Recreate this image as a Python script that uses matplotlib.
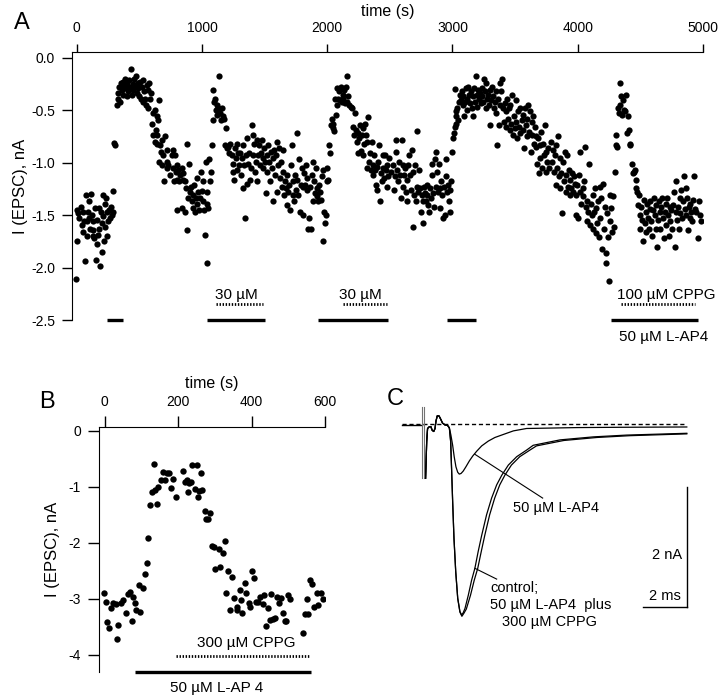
import numpy as np
import matplotlib.pyplot as plt

plt.rcParams['font.family'] = ['Liberation Sans', 'DejaVu Sans']
plt.rcParams['axes.unicode_minus'] = False

# ---------------- panel A: EPSC amplitude during the whole recording
# columns: time (s), I(EPSC) (nA)
a_0_300 = np.array([
    [-5, -2.11], [0, -1.45], [6, -1.75], [13, -1.48], [21, -1.53], [32, -1.42], [40, -1.59], [48, -1.66],
    [53, -1.47], [59, -1.56], [67, -1.94], [75, -1.31], [80, -1.70], [85, -1.56], [93, -1.47], [101, -1.37],
    [101, -1.53], [107, -1.63], [112, -1.30], [120, -1.50], [128, -1.64], [133, -1.56], [133, -1.70], [139, -1.72],
    [147, -1.43], [154, -1.93], [160, -1.78], [165, -1.55], [173, -1.69], [181, -1.63], [181, -1.43], [186, -1.99],
    [192, -1.47], [200, -1.85], [200, -1.58], [208, -1.31], [213, -1.51], [218, -1.75], [226, -1.61], [226, -1.39],
    [234, -1.34], [240, -1.47], [245, -1.70], [253, -1.56], [261, -1.45], [266, -1.53], [272, -1.42], [280, -1.50],
    [288, -1.47], [293, -1.27]])

a_300_1070 = np.array([
    [301, -0.81], [306, -0.83], [319, -0.45], [327, -0.39], [333, -0.34], [341, -0.28], [346, -0.42], [351, -0.24],
    [359, -0.31], [367, -0.23], [373, -0.36], [381, -0.27], [386, -0.20], [394, -0.29], [399, -0.37], [405, -0.24],
    [413, -0.32], [420, -0.21], [426, -0.28], [431, -0.11], [439, -0.36], [447, -0.25], [452, -0.31], [460, -0.20],
    [466, -0.28], [474, -0.17], [479, -0.34], [487, -0.24], [492, -0.29], [500, -0.37], [506, -0.23], [511, -0.39],
    [519, -0.28], [527, -0.21], [532, -0.42], [538, -0.32], [546, -0.39], [554, -0.45], [559, -0.26], [567, -0.48],
    [572, -0.31], [580, -0.24], [585, -0.39], [591, -0.34], [599, -0.63], [607, -0.53], [612, -0.74], [625, -0.50],
    [625, -0.80], [633, -0.69], [639, -0.74], [644, -0.56], [644, -0.82], [652, -0.59], [660, -0.40], [660, -0.99],
    [665, -0.83], [670, -0.90], [679, -0.78], [679, -1.02], [692, -0.93], [697, -1.18], [705, -0.75], [718, -0.88],
    [718, -1.05], [724, -0.99], [732, -1.02], [745, -1.12], [758, -0.93], [766, -1.05], [772, -0.88], [777, -1.18],
    [785, -0.93], [793, -1.09], [798, -1.02], [804, -1.17], [804, -1.45], [812, -1.07], [820, -1.18], [825, -1.12],
    [838, -1.05], [838, -1.43], [846, -1.17], [851, -1.10], [865, -1.18], [865, -1.47], [873, -1.24], [878, -1.64],
    [883, -0.82], [891, -1.34], [899, -1.01], [905, -1.28], [910, -1.23], [918, -1.37], [926, -1.31], [931, -1.43],
    [936, -1.21], [944, -1.47], [952, -1.34], [958, -1.15], [963, -1.39], [971, -1.28], [979, -1.45], [984, -1.34],
    [990, -1.09], [998, -1.27], [1006, -1.37], [1011, -1.18], [1016, -1.45], [1024, -1.69], [1032, -0.99],
    [1038, -1.39], [1043, -1.28], [1043, -1.96], [1051, -1.43], [1059, -0.97], [1064, -1.18], [1070, -1.09]])

a_1070_2000 = np.array([
    [1078, -0.83], [1085, -0.59], [1091, -0.31], [1096, -0.42], [1104, -0.39], [1112, -0.50], [1117, -0.45],
    [1123, -0.55], [1131, -0.48], [1139, -0.17], [1144, -0.53], [1149, -0.59], [1157, -0.48], [1165, -0.56],
    [1176, -0.58], [1184, -0.83], [1192, -0.67], [1203, -0.86], [1211, -0.85], [1218, -0.91], [1224, -0.82],
    [1237, -0.93], [1245, -1.09], [1251, -1.01], [1256, -1.17], [1264, -0.86], [1272, -0.96], [1277, -1.07],
    [1283, -0.82], [1291, -0.91], [1298, -1.02], [1304, -0.91], [1309, -1.12], [1317, -0.96], [1325, -1.24],
    [1330, -0.83], [1336, -1.02], [1344, -1.53], [1352, -0.93], [1357, -1.20], [1362, -0.77], [1370, -1.01],
    [1378, -0.91], [1384, -1.17], [1389, -1.05], [1397, -0.64], [1405, -0.74], [1410, -0.93], [1416, -0.82],
    [1424, -1.09], [1431, -0.99], [1437, -0.78], [1442, -1.18], [1450, -0.93], [1458, -0.83], [1463, -1.02],
    [1469, -0.91], [1477, -0.78], [1485, -0.96], [1490, -1.05], [1495, -0.86], [1503, -0.99], [1511, -1.29],
    [1517, -0.93], [1522, -1.09], [1530, -0.83], [1538, -0.99], [1543, -1.18], [1549, -0.90], [1557, -1.05],
    [1564, -1.37], [1570, -0.96], [1575, -0.88], [1583, -1.12], [1591, -0.93], [1596, -1.28], [1602, -0.80],
    [1610, -1.02], [1618, -0.86], [1623, -1.15], [1628, -0.99], [1636, -1.23], [1644, -0.88], [1650, -1.09],
    [1655, -1.31], [1663, -1.18], [1671, -1.24], [1676, -1.12], [1682, -1.40], [1690, -1.28], [1697, -1.21],
    [1703, -1.45], [1708, -1.02], [1716, -0.83], [1724, -1.31], [1729, -1.18], [1735, -1.37], [1743, -1.12],
    [1751, -1.26], [1756, -0.72], [1761, -1.17], [1769, -1.31], [1777, -0.97], [1783, -1.47], [1788, -1.21],
    [1796, -1.05], [1804, -1.50], [1809, -1.23], [1815, -1.10], [1822, -1.21], [1830, -1.02], [1836, -1.26],
    [1841, -1.15], [1849, -1.63], [1857, -1.53], [1862, -1.23], [1868, -1.63], [1876, -1.12], [1884, -1.37],
    [1889, -0.99], [1894, -1.18], [1902, -1.29], [1910, -1.05], [1916, -1.24], [1921, -1.32], [1929, -1.37],
    [1937, -1.21], [1942, -1.28], [1948, -1.36], [1956, -1.13], [1963, -1.07], [1969, -1.75], [1974, -1.47],
    [1982, -1.58], [1990, -1.50], [1995, -1.18]])

a_2000_3000 = np.array([
    [2001, -1.05], [2009, -1.17], [2017, -0.83], [2022, -0.91], [2027, -0.64], [2035, -0.58], [2043, -0.67],
    [2049, -0.63], [2054, -0.70], [2062, -0.39], [2070, -0.55], [2075, -0.45], [2081, -0.29], [2089, -0.39],
    [2096, -0.32], [2102, -0.40], [2107, -0.28], [2115, -0.42], [2123, -0.36], [2128, -0.39], [2134, -0.31],
    [2142, -0.43], [2150, -0.28], [2155, -0.17], [2160, -0.42], [2168, -0.37], [2176, -0.45], [2187, -0.47],
    [2195, -0.48], [2208, -0.66], [2213, -0.74], [2221, -0.53], [2229, -0.69], [2235, -0.80], [2243, -0.72],
    [2248, -0.91], [2256, -0.77], [2261, -0.64], [2269, -0.89], [2275, -0.74], [2283, -0.67], [2288, -0.93],
    [2293, -0.82], [2301, -0.63], [2309, -0.74], [2315, -1.05], [2320, -0.80], [2328, -0.57], [2336, -0.99],
    [2341, -0.91], [2347, -1.07], [2355, -0.80], [2362, -1.02], [2368, -1.12], [2373, -0.93], [2381, -1.07],
    [2389, -1.21], [2394, -1.04], [2400, -1.26], [2408, -0.99], [2416, -0.83], [2421, -1.37], [2426, -1.10],
    [2434, -1.18], [2442, -1.05], [2448, -0.93], [2453, -1.15], [2461, -0.93], [2469, -1.07], [2474, -1.23],
    [2480, -1.02], [2487, -1.13], [2495, -0.96],
    [2513, -1.09], [2527, -1.02], [2532, -1.26], [2540, -1.13], [2548, -0.78], [2553, -0.90], [2559, -1.07],
    [2567, -1.18], [2574, -0.99], [2580, -1.12], [2585, -1.34], [2593, -0.78], [2601, -1.02], [2606, -1.23],
    [2612, -1.12], [2620, -1.05], [2628, -1.28], [2633, -1.17], [2638, -1.37], [2646, -1.02], [2654, -0.93],
    [2660, -1.12], [2665, -1.26], [2673, -0.88], [2681, -1.61], [2686, -1.09], [2692, -1.31], [2700, -1.02],
    [2707, -1.37], [2713, -1.23], [2718, -0.70], [2726, -1.28], [2734, -1.07], [2739, -1.24], [2745, -1.47],
    [2753, -1.31], [2761, -1.37], [2766, -1.58], [2771, -1.23], [2779, -1.29], [2787, -1.37], [2793, -1.21],
    [2798, -1.31], [2806, -1.40], [2814, -1.47], [2819, -1.24], [2825, -1.34], [2833, -1.01], [2840, -1.12],
    [2846, -1.29], [2851, -1.42], [2859, -0.97], [2867, -1.23], [2872, -0.90], [2878, -1.09], [2886, -1.28],
    [2894, -1.01], [2899, -1.24], [2904, -1.43], [2912, -1.18], [2920, -1.31], [2926, -1.53], [2931, -1.23],
    [2939, -1.50], [2947, -0.97], [2952, -1.13], [2958, -1.28], [2966, -1.21], [2973, -1.37], [2979, -1.47],
    [2984, -1.26], [2992, -1.18]])

a_3000_4300 = np.array([
    [3000, -0.90], [3005, -0.77], [3011, -0.72], [3019, -0.66], [3021, -0.30], [3027, -0.63], [3027, -0.51],
    [3032, -0.56], [3037, -0.48], [3045, -0.59], [3053, -0.42], [3059, -0.36], [3064, -0.40], [3072, -0.32],
    [3080, -0.45], [3085, -0.37], [3091, -0.56], [3099, -0.42], [3106, -0.29], [3112, -0.39], [3117, -0.50],
    [3125, -0.28], [3133, -0.36], [3138, -0.43], [3144, -0.32], [3152, -0.48], [3160, -0.37], [3165, -0.56],
    [3170, -0.29], [3178, -0.42], [3186, -0.17], [3192, -0.36], [3197, -0.47], [3205, -0.31], [3213, -0.39],
    [3218, -0.34], [3224, -0.43], [3232, -0.29], [3239, -0.37], [3245, -0.42], [3250, -0.20], [3258, -0.32],
    [3266, -0.48], [3271, -0.24], [3277, -0.39], [3285, -0.36], [3293, -0.45], [3298, -0.31], [3303, -0.64],
    [3311, -0.40], [3319, -0.28], [3325, -0.37], [3330, -0.48], [3338, -0.42], [3346, -0.32], [3351, -0.53],
    [3357, -0.83], [3364, -0.39], [3372, -0.64], [3378, -0.24], [3383, -0.45], [3391, -0.32], [3399, -0.20],
    [3404, -0.48], [3410, -0.61], [3418, -0.43], [3426, -0.66], [3431, -0.51], [3436, -0.39], [3444, -0.58],
    [3452, -0.48], [3458, -0.69], [3463, -0.45], [3471, -0.63], [3479, -0.36], [3484, -0.74], [3490, -0.56],
    [3498, -0.67], [3506, -0.40], [3511, -0.61], [3516, -0.77], [3524, -0.51], [3532, -0.66], [3537, -0.48],
    [3543, -0.72], [3551, -0.59], [3559, -0.55], [3564, -0.69], [3572, -0.86], [3577, -0.48], [3585, -0.64],
    [3591, -0.75], [3596, -0.58], [3604, -0.45], [3612, -0.71], [3617, -0.51], [3623, -0.90], [3631, -0.61],
    [3638, -0.74], [3644, -0.56], [3649, -0.82], [3657, -0.66], [3665, -0.75], [3670, -0.85], [3676, -1.01],
    [3684, -0.77], [3692, -1.10], [3697, -0.83], [3702, -0.96], [3710, -0.71], [3718, -1.05], [3724, -0.82],
    [3729, -0.93], [3737, -0.64], [3745, -1.09], [3750, -0.90], [3756, -0.99], [3764, -0.86], [3772, -1.05],
    [3790, -0.80], [3798, -0.99], [3804, -0.88], [3809, -1.09], [3817, -0.93], [3825, -1.21], [3830, -0.83],
    [3836, -1.05], [3844, -0.75], [3851, -1.13], [3857, -0.96], [3862, -1.24], [3870, -1.10], [3878, -1.48],
    [3883, -0.99], [3889, -1.18], [3897, -0.90], [3905, -1.28], [3910, -1.12], [3915, -0.93], [3923, -1.23],
    [3931, -1.07], [3937, -1.31], [3942, -1.17], [3950, -1.24], [3958, -1.10], [3963, -1.28], [3969, -1.13],
    [3977, -1.20], [3984, -1.50], [3990, -1.31], [3995, -1.21], [4003, -1.53], [4011, -1.12], [4016, -1.28],
    [4022, -0.90], [4030, -1.39], [4038, -1.24], [4043, -1.32], [4048, -1.18], [4056, -0.85], [4064, -1.42],
    [4070, -1.56], [4075, -1.37], [4083, -1.47], [4091, -1.01], [4096, -1.59], [4102, -1.39], [4110, -1.50],
    [4118, -1.31], [4123, -1.63], [4128, -1.47], [4136, -1.24], [4144, -1.67], [4149, -1.43], [4155, -1.58],
    [4163, -1.37], [4171, -1.71], [4176, -1.23], [4181, -1.53], [4189, -1.34], [4197, -1.82], [4203, -1.20],
    [4208, -1.63], [4216, -1.42], [4224, -1.86], [4229, -1.96], [4235, -1.48], [4243, -1.71], [4250, -2.13],
    [4256, -1.31], [4261, -1.56], [4269, -1.43], [4277, -1.66], [4282, -1.32], [4288, -1.61], [4296, -1.09]])

a_4300_5000 = np.array([
    [4304, -0.83], [4309, -0.74], [4317, -0.85], [4322, -0.48], [4330, -0.53], [4336, -0.45], [4341, -0.24],
    [4349, -0.37], [4357, -0.55], [4362, -0.40], [4368, -0.50], [4376, -0.51], [4383, -0.36], [4394, -0.72],
    [4402, -0.56], [4410, -0.69], [4415, -0.82], [4421, -0.83], [4437, -1.01], [4442, -1.10], [4447, -1.09],
    [4455, -1.07], [4463, -1.17], [4469, -1.24], [4474, -1.28], [4482, -1.40], [4490, -1.31], [4495, -1.50],
    [4501, -1.63], [4509, -1.42], [4516, -1.55], [4522, -1.75], [4527, -1.36], [4535, -1.58], [4543, -1.47],
    [4548, -1.66], [4554, -1.39], [4562, -1.53], [4570, -1.63], [4575, -1.44], [4580, -1.37], [4588, -1.56],
    [4596, -1.70], [4602, -1.45], [4607, -1.34], [4615, -1.50], [4623, -1.63], [4628, -1.40], [4634, -1.80],
    [4642, -1.55], [4649, -1.37], [4655, -1.47], [4660, -1.63], [4668, -1.42], [4676, -1.34], [4681, -1.53],
    [4687, -1.72], [4695, -1.47], [4703, -1.39], [4708, -1.59], [4713, -1.34], [4721, -1.50], [4729, -1.70],
    [4735, -1.42], [4740, -1.56], [4748, -1.45], [4756, -1.63], [4761, -1.40], [4767, -1.28], [4775, -1.80],
    [4782, -1.47], [4788, -1.18], [4793, -1.55], [4801, -1.42], [4809, -1.63], [4814, -1.34], [4820, -1.48],
    [4828, -1.26], [4836, -1.53], [4841, -1.37], [4846, -1.13], [4854, -1.44], [4862, -1.24], [4868, -1.50],
    [4873, -1.34], [4881, -1.64], [4889, -1.42], [4894, -1.53], [4900, -1.39], [4908, -1.47], [4915, -1.56],
    [4921, -1.36], [4926, -1.13], [4934, -1.44], [4947, -1.47], [4961, -1.72], [4969, -1.37], [4979, -1.50],
    [4987, -1.56]])

a_lap4 = [(239, 372), (1037, 1503), (1928, 2487), (2953, 3187), (4262, 4961)]   # solid bars
a_cppg = [(1112, 1489), (2128, 2474), (4344, 4935)]                             # dotted bars
a_xticks = [0, 1000, 2000, 3000, 4000, 5000]
a_yticks = [0.0, -0.5, -1.0, -1.5, -2.0, -2.5]

# ---------------- panel B
b_pts = np.array([
    [-2, -2.89], [3, -3.05], [7, -3.42], [11, -3.52], [18, -3.17], [23, -3.08], [29, -3.10], [32, -3.71],
    [36, -3.46], [44, -3.07], [50, -3.03], [57, -3.26], [64, -2.91], [68, -2.87], [73, -3.40], [77, -2.96],
    [82, -3.08], [86, -3.20], [93, -2.75], [97, -3.24], [103, -2.81], [109, -2.56], [114, -2.36], [118, -1.91],
    [123, -1.33], [129, -1.09], [134, -0.60], [136, -1.06], [143, -1.30], [145, -1.00], [153, -0.88], [159, -0.73],
    [163, -0.88], [168, -0.75], [174, -0.76], [180, -1.03], [186, -0.87], [193, -1.19], [213, -0.72], [218, -0.91],
    [225, -0.88], [227, -1.09], [230, -0.93], [236, -0.91], [238, -0.61], [245, -1.05], [250, -0.61], [254, -1.18],
    [256, -1.07], [262, -0.76], [265, -1.06], [272, -1.43], [277, -1.58], [281, -1.58], [286, -1.47], [291, -2.06],
    [298, -2.08], [301, -2.47], [311, -2.12], [313, -2.44], [322, -2.19], [327, -1.96], [331, -2.89], [336, -2.51],
    [340, -3.20], [347, -2.61], [352, -2.99], [359, -3.14], [361, -3.20], [368, -2.84], [370, -3.03], [375, -3.26],
    [381, -2.72], [386, -2.89], [392, -3.07], [395, -3.14], [401, -2.50], [407, -2.63], [411, -3.06], [418, -3.05],
    [424, -2.96], [431, -3.09], [434, -2.93], [440, -3.49], [445, -3.17], [449, -3.37], [454, -2.91], [459, -3.36],
    [465, -3.34], [470, -2.96], [474, -3.08], [479, -2.99], [486, -3.26], [490, -3.39], [495, -3.40], [498, -2.93],
    [504, -3.01], [540, -3.61], [545, -3.27], [552, -3.01], [554, -3.27], [558, -2.66], [565, -2.73], [570, -3.15],
    [577, -2.89], [581, -3.11], [590, -2.90], [595, -3.01]])
b_lap4 = (82, 563)
b_cppg = (195, 560)
b_xticks = [0, 200, 400, 600]
b_yticks = [0, -1, -2, -3, -4]

# ---------------- panel C: EPSC traces (ms, nA)
c_pre_t = [-0.97, -0.06]
c_pre_v = [-0.01, -0.01]
c_early_t = [0.12, 0.17, 0.21, 0.29, 0.36, 0.42, 0.49, 0.55, 0.59, 0.65, 0.73, 0.80, 0.89, 1.00, 1.12, 1.20]
c_early_v = [-0.90, -0.29, -0.07, -0.04, -0.04, -0.10, -0.12, -0.07, 0.05, 0.14, 0.14, 0.09, 0.02, -0.01, -0.02, -0.06]
c_ctrl_t = [1.26, 1.30, 1.35, 1.41, 1.49, 1.58, 1.68, 1.76, 1.83, 1.91, 2.06, 2.21, 2.36, 2.51, 2.67, 2.89,
            3.12, 3.35, 3.58, 3.88, 4.26, 4.71, 5.01, 6.23, 7.74, 9.26, 11.99]
c_ctrl_v = [-0.29, -0.73, -1.29, -1.90, -2.46, -2.90, -3.12, -3.18, -3.14, -3.07, -2.85, -2.60, -2.40, -2.12,
            -1.85, -1.51, -1.23, -1.01, -0.85, -0.68, -0.54, -0.43, -0.35, -0.26, -0.21, -0.18, -0.15]
c_cppg_t = [1.26, 1.30, 1.35, 1.41, 1.49, 1.58, 1.68, 1.77, 1.86, 1.97, 2.16, 2.33, 2.49, 2.65, 2.81, 3.03,
            3.26, 3.49, 3.72, 4.02, 4.40, 4.86, 5.16, 6.40, 7.90, 9.40, 11.99]
c_cppg_v = [-0.29, -0.73, -1.29, -1.90, -2.46, -2.90, -3.13, -3.20, -3.15, -3.08, -2.85, -2.60, -2.40, -2.12,
            -1.85, -1.51, -1.23, -1.01, -0.85, -0.68, -0.54, -0.43, -0.36, -0.27, -0.22, -0.19, -0.16]
c_lap4_t = [1.27, 1.35, 1.42, 1.50, 1.58, 1.65, 1.73, 1.83, 1.95, 2.11, 2.26, 2.44, 2.67, 2.97, 3.27, 3.65,
            4.11, 4.71, 5.5, 7.0, 9.0, 11.99]
c_lap4_v = [-0.18, -0.35, -0.54, -0.71, -0.80, -0.83, -0.82, -0.78, -0.71, -0.61, -0.53, -0.45, -0.36, -0.28,
            -0.22, -0.17, -0.11, -0.07, -0.065, -0.055, -0.05, -0.045]

fig = plt.figure(figsize=(7.2, 7.0), dpi=100)

# ---- A
ax = fig.add_axes([71.7/720, 1-320/700, (703-71.7)/720, (320-52)/700])
for seg in [a_0_300, a_300_1070, a_1070_2000, a_2000_3000, a_3000_4300, a_4300_5000]:
    ax.plot(seg[:, 0], seg[:, 1], 'o', color='k', ms=4.5, mew=0)
for t0, t1 in a_lap4:
    ax.plot([t0, t1], [-2.5, -2.5], color='k', lw=2.4, solid_capstyle='butt', clip_on=False)
for t0, t1 in a_cppg:
    ax.plot([t0, t1], [-2.35, -2.35], color='k', lw=2.0, ls=(0, (0.5, 0.6)), clip_on=False)
ax.text(1277, -2.26, '30 µM', ha='center', va='center', fontsize=11)
ax.text(2261, -2.26, '30 µM', ha='center', va='center', fontsize=11)
ax.text(4709, -2.26, '100 µM CPPG', ha='center', va='center', fontsize=11)
ax.text(4687, -2.66, '50 µM L-AP4', ha='center', va='center', fontsize=11, clip_on=False)
ax.set_xlim(-40, 5000)
ax.set_ylim(-2.5, 0.054)
ax.spines['right'].set_visible(False)
ax.spines['bottom'].set_visible(False)
ax.xaxis.tick_top()
ax.xaxis.set_label_position('top')
ax.set_xticks(a_xticks)
ax.set_yticks(a_yticks)
ax.set_yticklabels(['%.1f' % y for y in a_yticks])
ax.tick_params(axis='x', direction='out', length=6, width=1, pad=6, labelsize=10)
ax.tick_params(axis='y', direction='out', length=7, width=1, pad=5, labelsize=10)
ax.set_xlabel('time (s)', fontsize=11.5, labelpad=4)
ax.set_ylabel('I (EPSC), nA', fontsize=12, labelpad=2)

# ---- B
bx = fig.add_axes([99/720, 1-671.7/700, (325-99)/720, (671.7-426.7)/700])
bx.plot(b_pts[:, 0], b_pts[:, 1], 'o', color='k', ms=4.6, mew=0)
bx.plot(b_lap4, [-4.31, -4.31], color='k', lw=2.4, solid_capstyle='butt', clip_on=False)
bx.plot(b_cppg, [-4.02, -4.02], color='k', lw=2.0, ls=(0, (0.5, 0.6)), clip_on=False)
bx.text(386, -3.79, '300 µM CPPG', ha='center', va='center', fontsize=11)
bx.text(304, -4.59, '50 µM L-AP 4', ha='center', va='center', fontsize=11, clip_on=False)
bx.set_xlim(-16, 600)
bx.set_ylim(-4.3, 0.07)
bx.spines['right'].set_visible(False)
bx.spines['bottom'].set_visible(False)
bx.xaxis.tick_top()
bx.xaxis.set_label_position('top')
bx.set_xticks(b_xticks)
bx.set_yticks(b_yticks)
bx.tick_params(axis='x', direction='out', length=8, width=1, pad=5, labelsize=10)
bx.tick_params(axis='y', direction='out', length=8, width=1, pad=5, labelsize=10)
bx.set_xlabel('time (s)', fontsize=11.5, labelpad=5)
bx.set_ylabel('I (EPSC), nA', fontsize=12, labelpad=6)

# ---- C
cx = fig.add_axes([395/720, 1-640/700, (700-395)/720, (640-395)/700])
cx.set_xlim(-1.27, 12.59)
cx.set_ylim(-3.595, 0.488)
cx.axis('off')
cx.plot([-0.97, 11.97], [0, 0], color='k', lw=1.0, ls=(0, (3, 2)))
cx.plot(c_pre_t, c_pre_v, color='k', lw=1.0)
cx.plot([-0.06, -0.06], [0.29, -0.90], color='0.45', lw=0.8)
cx.plot([0.06, 0.06], [0.29, -0.90], color='0.45', lw=0.8)
for tt, vv in [(c_ctrl_t, c_ctrl_v), (c_cppg_t, c_cppg_v), (c_lap4_t, c_lap4_v)]:
    cx.plot(c_early_t + tt, c_early_v + vv, color='k', lw=0.9)
cx.plot([2.36, 5.44], [-0.50, -1.23], color='k', lw=0.8)
cx.plot([2.36, 3.35], [-2.40, -2.58], color='k', lw=0.8)
cx.plot([12.0, 12.0], [-1.04, -3.04], color='k', lw=1.0)
cx.plot([9.99, 12.0], [-3.04, -3.04], color='k', lw=1.0)
cx.text(6.05, -1.39, '50 µM L-AP4', ha='center', va='center', fontsize=10.5)
cx.text(3.05, -2.73, 'control;', ha='left', va='center', fontsize=10.5)
cx.text(3.05, -3.01, '50 µM L-AP4  plus', ha='left', va='center', fontsize=10.5)
cx.text(3.58, -3.29, '300 µM CPPG', ha='left', va='center', fontsize=10.5)
cx.text(11.76, -2.18, '2 nA', ha='right', va='center', fontsize=10.5)
cx.text(11.72, -2.87, '2 ms', ha='right', va='center', fontsize=10.5)

fig.text(22/720, 1-23/700, 'A', fontsize=17, ha='center', va='center')
fig.text(47/720, 1-402/700, 'B', fontsize=17, ha='center', va='center')
fig.text(395/720, 1-399/700, 'C', fontsize=17, ha='center', va='center')

fig.savefig('out.png', dpi=100)
